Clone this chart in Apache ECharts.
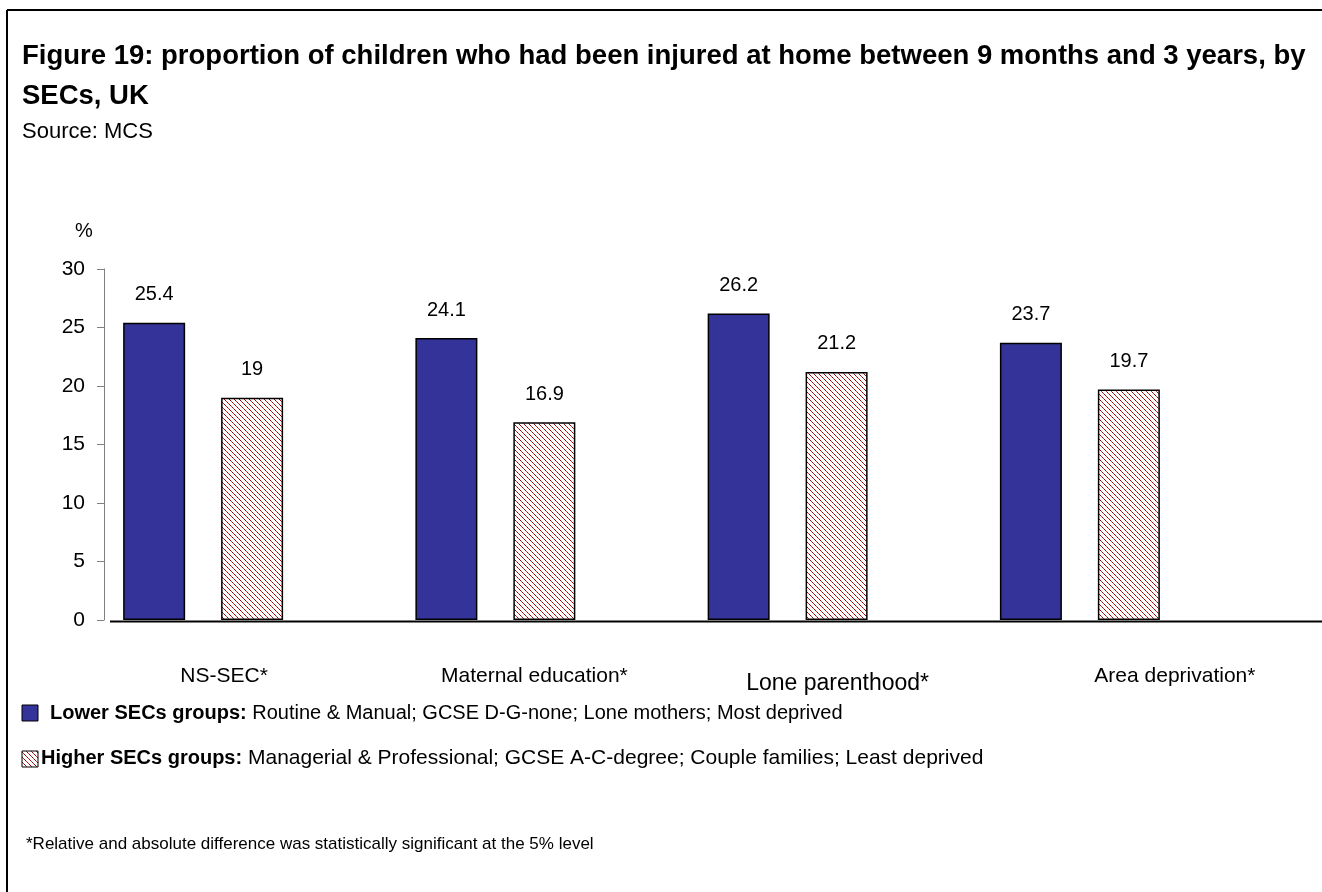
<!DOCTYPE html>
<html><head><meta charset="utf-8">
<script src="https://cdn.jsdelivr.net/npm/echarts@6/dist/echarts.min.js"></script>
<style>html,body{margin:0;padding:0;background:#fff}#c{width:1322px;height:892px}</style>
</head><body><div id="c"></div>
<script>
const categories = ['NS-SEC*', 'Maternal education*', 'Lone parenthood*', 'Area deprivation*'];
const lowerValues = [25.4, 24.1, 26.2, 23.7];
const higherValues = [19, 16.9, 21.2, 19.7];
const yTicks = [0, 5, 10, 15, 20, 25, 30];
const titleLines = ['Figure 19: proportion of children who had been injured at home between 9 months and 3 years, by', 'SECs, UK'];
const sourceText = 'Source: MCS';
const legendLower = ['Lower SECs groups:', 'Routine & Manual; GCSE D-G-none; Lone mothers; Most deprived'];
const legendHigher = ['Higher SECs groups:', 'Managerial & Professional; GCSE A-C-degree; Couple families; Least deprived'];
const footnote = '*Relative and absolute difference was statistically significant at the 5% level';

const FONT = '"Liberation Sans", Arial, sans-serif';
function hatch() {
  const c = document.createElement('canvas');
  c.width = 5; c.height = 5;
  const g = c.getContext('2d');
  g.fillStyle = '#ffffff'; g.fillRect(0, 0, 5, 5);
  for (let i = 0; i < 5; i++) {
    g.fillStyle = (i % 2) ? '#c04040' : '#990000';
    g.fillRect(i, i, 1, 1);
  }
  return c;
}
const hatchFill = { image: hatch(), repeat: 'repeat' };
const labelOffsets = [21, 39, 50, 95];
const rich = {};
categories.forEach((c, i) => {
  rich['c' + i] = { fontSize: i === 2 ? 23 : 21, fontFamily: FONT, color: '#000', padding: [i === 2 ? 6 : 0, 0, 0, labelOffsets[i] * 2] };
});

const chart = echarts.init(document.getElementById('c'), null, { renderer: 'canvas' });
chart.setOption({
  backgroundColor: '#fff',
  animation: false,
  grid: { left: 57, right: 96, top: 269, bottom: 272 },
  xAxis: {
    type: 'category', data: categories,
    axisLine: { show: false }, axisTick: { show: false },
    axisLabel: { margin: 46, formatter: (v, i) => '{c' + i + '|' + v + '}', rich }
  },
  yAxis: {
    type: 'value', min: 0, max: 30, interval: 5, offset: -47,
    name: '%', nameLocation: 'end', nameGap: 28,
    nameTextStyle: { fontSize: 20, fontFamily: FONT, color: '#000', align: 'center', padding: [0, 0, 0, -40] },
    axisLine: { show: true, lineStyle: { color: '#808080', width: 1 } },
    axisTick: { show: true, inside: false, length: 7, lineStyle: { color: '#808080' } },
    axisLabel: { fontSize: 21, fontFamily: FONT, color: '#000', margin: 19,
      formatter: v => yTicks.includes(v) ? String(v) : '' },
    splitLine: { show: false }
  },
  series: [
    { type: 'bar', name: 'Lower', data: lowerValues, barWidth: 62, barGap: '58%',
      itemStyle: { color: '#333399', borderColor: '#000', borderWidth: 1.5 },
      label: { show: true, position: 'top', distance: 18, fontSize: 20, fontFamily: FONT, color: '#000' } },
    { type: 'bar', name: 'Higher', data: higherValues, barWidth: 62,
      itemStyle: { color: hatchFill, borderColor: '#000', borderWidth: 1.5 },
      label: { show: true, position: 'top', distance: 18, fontSize: 20, fontFamily: FONT, color: '#000' } }
  ],
  graphic: [
    { type: 'line', shape: { x1: 7, y1: 10, x2: 1322, y2: 10 }, style: { stroke: '#000', lineWidth: 2 } },
    { type: 'line', shape: { x1: 7, y1: 10, x2: 7, y2: 892 }, style: { stroke: '#000', lineWidth: 2 } },
    { type: 'line', shape: { x1: 110, y1: 621.5, x2: 1322, y2: 621.5 }, style: { stroke: '#000', lineWidth: 2 } },
    { type: 'text', left: 22, top: 42, style: { text: titleLines[0], font: 'bold 27.5px ' + FONT, fill: '#000' } },
    { type: 'text', left: 22, top: 82, style: { text: titleLines[1], font: 'bold 27.5px ' + FONT, fill: '#000' } },
    { type: 'text', left: 22, top: 121, style: { text: sourceText, font: '22px ' + FONT, fill: '#000' } },
    { type: 'rect', shape: { x: 22, y: 705, width: 16, height: 16 }, style: { fill: '#333399', stroke: '#000', lineWidth: 1 } },
    { type: 'rect', shape: { x: 22, y: 751, width: 16, height: 16 }, style: { fill: hatchFill, stroke: '#000', lineWidth: 1 } },
    { type: 'text', left: 50, top: 703, style: { text: '{b|' + legendLower[0] + '} ' + legendLower[1],
        font: '20px ' + FONT, fill: '#000', rich: { b: { fontWeight: 'bold', fontSize: 20, fontFamily: FONT } } } },
    { type: 'text', left: 41, top: 748, style: { text: '{b|' + legendHigher[0] + '} ' + legendHigher[1],
        font: '21px ' + FONT, fill: '#000', rich: { b: { fontWeight: 'bold', fontSize: 20, fontFamily: FONT } } } },
    { type: 'text', left: 26, top: 836, style: { text: footnote, font: '17px ' + FONT, fill: '#000' } }
  ]
});
</script></body></html>
